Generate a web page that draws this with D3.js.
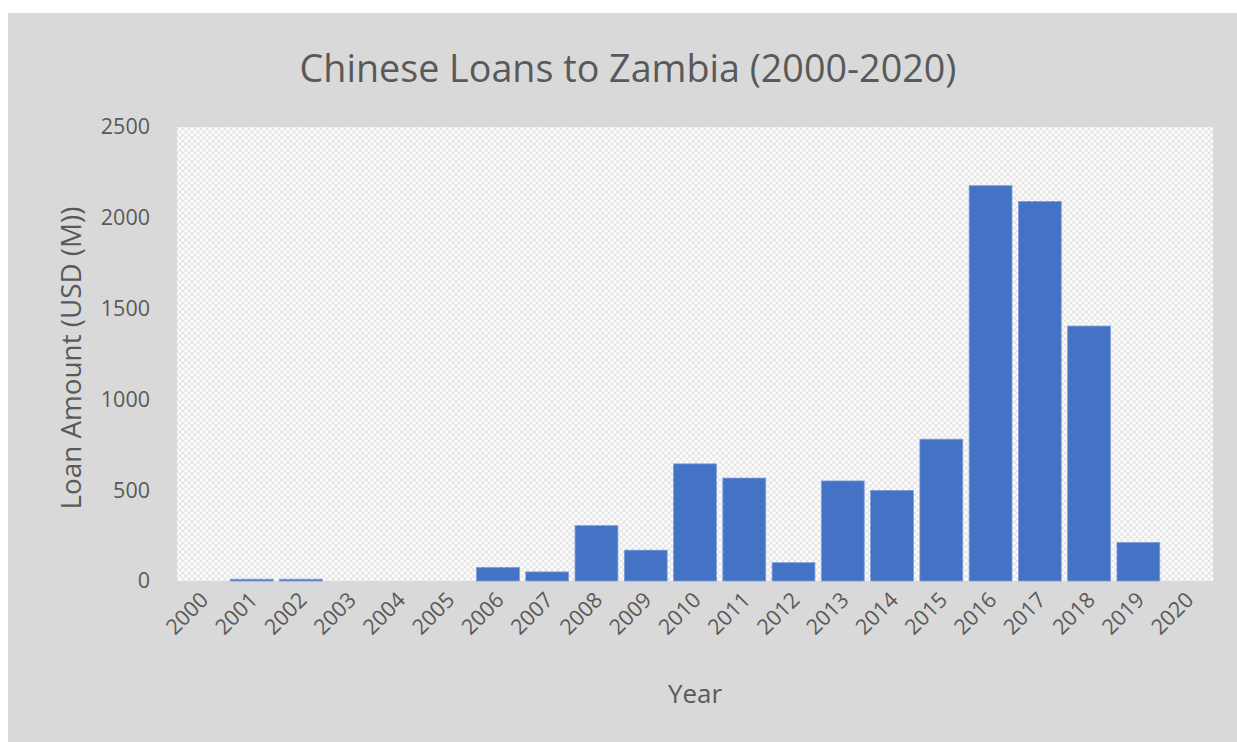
<!DOCTYPE html>
<html>
<head>
<meta charset="utf-8">
<script src="https://cdn.jsdelivr.net/npm/d3@7"></script>
<style>
  html, body { margin: 0; padding: 0; background: #ffffff; }
  svg { display: block; }
  text { font-family: "Open Sans", "Liberation Sans", sans-serif; fill: #595959; }
</style>
</head>
<body>
<svg id="chart" width="1237" height="742"></svg>
<script>
// Chinese loans to Zambia, by year (USD millions)
const years = ["2000","2001","2002","2003","2004","2005","2006","2007","2008","2009","2010",
               "2011","2012","2013","2014","2015","2016","2017","2018","2019","2020"];
const loans = [0, 10, 10, 0, 0, 0, 75, 50, 305, 170, 645,
               567, 101, 551, 499, 781, 2177, 2090, 1404, 212, 0];
const yTicks = [0, 500, 1000, 1500, 2000, 2500];

const titleText = "Chinese Loans to Zambia (2000-2020)";
const xTitle = "Year";
const yTitle = "Loan Amount (USD (M))";

const svg = d3.select("#chart");
const W = 1237, H = 742;
const plot = { left: 177, top: 127, right: 1213, bottom: 581 };

// hatched fill for the plot area
const defs = svg.append("defs");
const pat = defs.append("pattern")
  .attr("id", "hatch").attr("patternUnits", "userSpaceOnUse")
  .attr("width", 6).attr("height", 6);
pat.append("rect").attr("width", 6).attr("height", 6).attr("fill", "#ffffff");
pat.append("path").attr("d", "M0,0 L6,6 M6,0 L0,6")
  .attr("stroke", "#e3e3e3").attr("stroke-width", 1.2);

// chart background
svg.append("rect").attr("x", 8).attr("y", 13)
  .attr("width", W - 8).attr("height", H - 13).attr("fill", "#d9d9d9");

svg.append("rect")
  .attr("x", plot.left).attr("y", plot.top)
  .attr("width", plot.right - plot.left).attr("height", plot.bottom - plot.top)
  .attr("fill", "url(#hatch)");

const x = d3.scaleBand().domain(years)
  .range([plot.left, plot.right]).paddingInner(0.13).paddingOuter(0.08);
const y = d3.scaleLinear().domain([0, 2500]).range([plot.bottom, plot.top]);

// bars
svg.append("g").selectAll("rect")
  .data(years.map((yr, i) => ({ yr, v: loans[i] })))
  .join("rect")
  .attr("x", d => x(d.yr))
  .attr("y", d => y(d.v))
  .attr("width", x.bandwidth())
  .attr("height", d => y(0) - y(d.v))
  .attr("fill", "#4472c4")
  .attr("stroke", "#7f9fd9").attr("stroke-width", d => d.v > 0 ? 0.8 : 0);

// y axis labels
const yAxis = d3.axisLeft(y).tickValues(yTicks).tickFormat(d3.format("d"))
  .tickSize(0).tickPadding(0);
const gy = svg.append("g").attr("transform", `translate(150,0)`).call(yAxis);
gy.select(".domain").remove();
gy.selectAll("text").style("font-size", "21.5px").attr("fill", "#595959")
  .style("font-family", "'Open Sans', sans-serif");

// x axis labels, rotated
const xAxis = d3.axisBottom(x).tickSize(0).tickPadding(0);
const gx = svg.append("g").attr("transform", `translate(0,${plot.bottom})`).call(xAxis);
gx.select(".domain").remove();
gx.selectAll("text")
  .style("font-size", "21.5px").attr("fill", "#595959")
  .style("font-family", "'Open Sans', sans-serif")
  .attr("text-anchor", "end")
  .attr("dy", "0.35em")
  .attr("y", 0)
  .attr("transform", "translate(2,15) rotate(-45)");

// fit a text element to a target width by adjusting font size
function fitText(sel, target, base) {
  sel.style("font-size", base + "px");
  const len = sel.node().getComputedTextLength();
  sel.style("font-size", (base * target / len).toFixed(2) + "px");
}

const title = svg.append("text")
  .attr("x", 628).attr("y", 67)
  .attr("text-anchor", "middle").attr("dominant-baseline", "central")
  .text(titleText);
fitText(title, 657, 30);

const xt = svg.append("text")
  .attr("x", 695).attr("y", 693)
  .attr("text-anchor", "middle").attr("dominant-baseline", "central")
  .text(xTitle);
fitText(xt, 54, 22);

const yt = svg.append("text")
  .attr("transform", "translate(70,358) rotate(-90)")
  .attr("text-anchor", "middle").attr("dominant-baseline", "central")
  .text(yTitle);
fitText(yt, 303, 22);
</script>
</body>
</html>
